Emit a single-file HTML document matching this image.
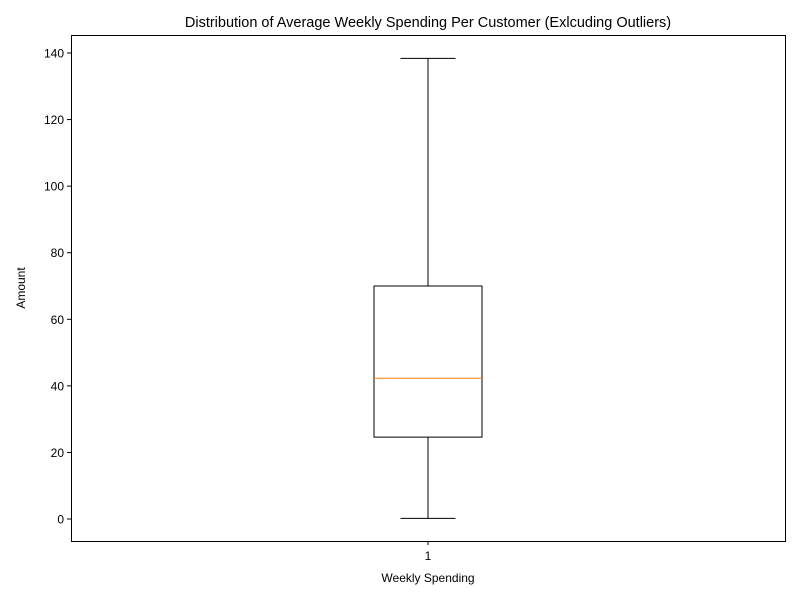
<!DOCTYPE html>
<html><head><meta charset="utf-8"><style>
body{margin:0;background:#fff;}
svg{display:block;font-family:"Liberation Sans","DejaVu Sans",sans-serif;}
</style></head><body>
<svg id="chart" width="800" height="600">
<rect width="800" height="600" fill="#fff"/>
<text x="428" y="27" text-anchor="middle" font-size="14.5">Distribution of Average Weekly Spending Per Customer (Exlcuding Outliers)</text>
<g id="yticks"></g>
<g id="boxg"></g>
<rect x="71.5" y="35.5" width="714" height="506" fill="none" stroke="#000" stroke-width="1"/>
<line x1="428" y1="541" x2="428" y2="545" stroke="#000"/>
<text x="428" y="560" text-anchor="middle" font-size="12">1</text>
<text x="428" y="582" text-anchor="middle" font-size="12">Weekly Spending</text>
<text transform="translate(25,288) rotate(-90)" text-anchor="middle" font-size="12">Amount</text>
</svg>
<script>
const yTicks=[0,20,40,60,80,100,120,140];
const categories=["Weekly Spending"];
const whiskerLow=[0.2];
const q1=[24.6];
const median=[42.3];
const q3=[70.0];
const whiskerHigh=[138.4];
const NS="http://www.w3.org/2000/svg";
function y(v){return 519-v*(466/140);}
function mk(tag,attrs,parent){const e=document.createElementNS(NS,tag);for(const k in attrs)e.setAttribute(k,attrs[k]);parent.appendChild(e);return e;}
const yt=document.getElementById('yticks');
yTicks.forEach(t=>{
  const l=mk('line',{x1:67,x2:71,y1:y(t),y2:y(t),stroke:'#000'},yt);
  
  
  const tx=mk('text',{x:64,y:y(t)+4.5,'text-anchor':'end','font-size':12},yt);
  tx.textContent=t;
  
  
});
const bg=document.getElementById('boxg');
categories.forEach((c,i)=>{
  const cx=428, hw=54, cw=27.5;
  const w1=mk('line',{x1:cx,x2:cx,y1:y(q1[i]),y2:y(whiskerLow[i]),stroke:'#000'},bg);
  
  
  const w2=mk('line',{x1:cx,x2:cx,y1:y(q3[i]),y2:y(whiskerHigh[i]),stroke:'#000'},bg);
  
  
  const c1=mk('line',{x1:cx-cw,x2:cx+cw,y1:y(whiskerLow[i]),y2:y(whiskerLow[i]),stroke:'#000'},bg);
  
  
  const c2=mk('line',{x1:cx-cw,x2:cx+cw,y1:y(whiskerHigh[i]),y2:y(whiskerHigh[i]),stroke:'#000'},bg);
  
  
  const b=mk('rect',{x:cx-hw,y:y(q3[i]),width:2*hw,height:y(q1[i])-y(q3[i]),fill:'none',stroke:'#000'},bg);
  
  
  const m=mk('line',{x1:cx-hw,x2:cx+hw,y1:y(median[i]),y2:y(median[i]),stroke:'#ff7f0e'},bg);
  
  
});
</script>
</body></html>
